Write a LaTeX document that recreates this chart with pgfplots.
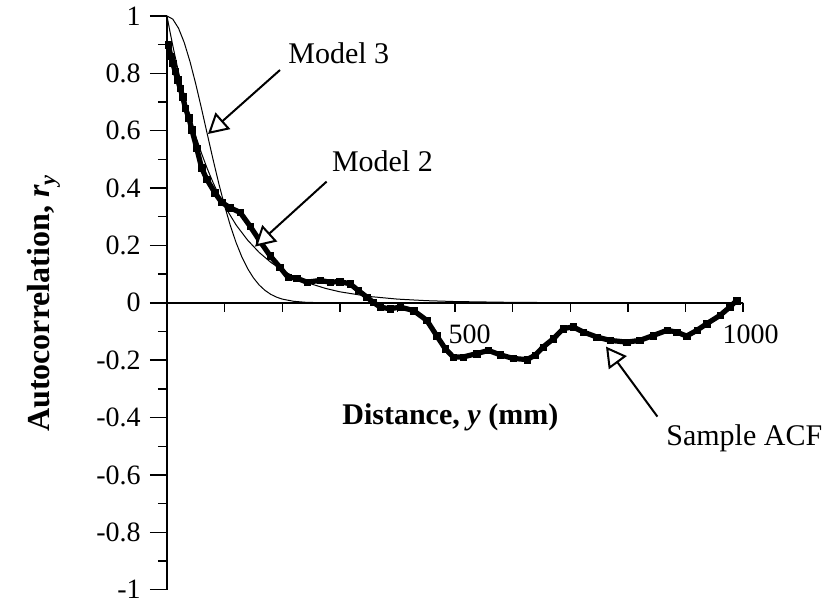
\documentclass[border=0pt]{standalone}
\usepackage{pgfplots}
\pgfplotsset{compat=1.18}
\usepackage{fontspec}
\setmainfont{Liberation Serif}
\usetikzlibrary{arrows.meta}

\begin{document}
\begin{tikzpicture}[font=\fontsize{15}{18}\selectfont]
\useasboundingbox (0,0) rectangle (415pt,301pt);
\begin{axis}[
  at={(83.5pt,6.2pt)}, anchor=south west,
  scale only axis, width=288pt, height=286.8pt,
  xmin=0, xmax=1000, ymin=-1, ymax=1,
  axis lines=middle,
  axis line style={-, line width=0.9pt},
  tick align=outside,
  tick style={black, line width=0.7pt},
  major tick length=8.5pt,
  minor tick length=4.5pt,
  hide obscured y ticks=false,
  hide obscured x ticks=false,
  xtick={500,1000},
  xticklabels={500,1000},
  major x tick style={draw=none},
  minor xtick={100,200,300,400,500,600,700,800,900,1000},
  ytick={-1,-0.8,-0.6,-0.4,-0.2,0,0.2,0.4,0.6,0.8,1},
  yticklabels={-1,-0.8,-0.6,-0.4,-0.2,0,0.2,0.4,0.6,0.8,1},
  minor ytick={-0.9,-0.7,-0.5,-0.3,-0.1,0.1,0.3,0.5,0.7,0.9},
  tick label style={font=\fontsize{14}{16}\selectfont},
  xticklabel style={anchor=east, inner sep=0pt, xshift=18pt, yshift=-7.5pt},
  yticklabel style={anchor=east, inner sep=0pt, xshift=-4.5pt},
  clip=false,
]
% Model 3: Gaussian-type correlation
\addplot[black, line width=0.5pt] coordinates {
  (0,1) (10,0.9892) (20,0.9575) (30,0.9070) (40,0.8406) (50,0.7624)
  (60,0.6767) (70,0.5876) (80,0.4994) (90,0.4153) (100,0.3379)
  (110,0.2690) (120,0.2096) (130,0.1598) (140,0.1192) (150,0.0871)
  (160,0.0622) (170,0.0435) (180,0.0297) (190,0.0199) (200,0.0130)
  (220,0.0052) (240,0.0019) (260,0.0007) (280,0.0002) (300,0.0001)
  (400,0) (600,0) (1000,0)
};
% Model 2: exponential correlation
\addplot[black, line width=0.5pt] coordinates {
  (0,1) (5,0.9471) (10,0.8970) (20,0.8046) (30,0.7218) (40,0.6474)
  (50,0.5807) (60,0.5209) (70,0.4673) (80,0.4192) (90,0.3760)
  (100,0.3373) (120,0.2714) (140,0.2184) (160,0.1757) (180,0.1414)
  (200,0.1137) (225,0.0867) (250,0.0660) (275,0.0503) (300,0.0384)
  (350,0.0223) (400,0.0129) (450,0.0075) (500,0.0044) (600,0.0015)
  (700,0.0005) (800,0.0002) (1000,0)
};
% Sample ACF
\addplot[black, line width=2.6pt, mark=square*, mark size=1.6pt,
         mark options={solid, line width=0.2pt}] coordinates {
  (2,0.900) (7,0.859) (10,0.836) (14,0.807) (18.6,0.778) (22.6,0.749)
  (27.3,0.718) (31.8,0.679) (38,0.645) (43,0.604) (51.5,0.540)
  (60,0.471) (69,0.431) (83,0.384) (95,0.350) (109,0.332) (127,0.315)
  (144,0.268) (161,0.216) (179,0.164) (196,0.124) (210,0.089)
  (225,0.086) (243,0.072) (266,0.078) (283,0.072) (300,0.074)
  (318,0.066) (332,0.043) (347,0.020) (358,0.002) (370,-0.015)
  (387,-0.021) (405,-0.015) (428,-0.027) (451,-0.061) (468,-0.114)
  (483,-0.160) (497,-0.189) (514,-0.189) (538,-0.177) (558,-0.166)
  (578,-0.181) (601,-0.194) (625,-0.198) (639,-0.183) (653,-0.154)
  (671,-0.125) (688,-0.090) (705,-0.084) (723,-0.102) (746,-0.119)
  (769,-0.131) (798,-0.137) (821,-0.131) (844,-0.114) (868,-0.096)
  (885,-0.102) (902,-0.116) (920,-0.096) (937,-0.073) (960,-0.044)
  (977,-0.015) (989,0.008)
};
\end{axis}

% axis titles
\node[rotate=90, anchor=base, font=\fontsize{16}{19}\selectfont\bfseries]
  at (25pt,149.5pt) {Autocorrelation, \textit{r}\textsubscript{\textit{y}}};
\node[anchor=base west, inner sep=0pt, font=\fontsize{15}{18}\selectfont\bfseries]
  at (171pt,89pt) {Distance, \textit{y} (mm)};

% callouts
\tikzset{callout/.style={line width=1pt,
  -{Triangle[length=10pt, width=11pt, fill=white]}}}
\draw[callout] (140pt,266pt) -- (104pt,234pt);
\draw[callout] (163.3pt,210.2pt) -- (127.5pt,177.7pt);
\draw[callout] (328.7pt,92.7pt) -- (303pt,127.7pt);
\node[anchor=base west, inner sep=0pt] at (144pt,269.3pt) {Model 3};
\node[anchor=base west, inner sep=0pt] at (165.8pt,215.2pt) {Model 2};
\node[anchor=base west, inner sep=0pt] at (333pt,78.5pt) {Sample ACF};
\end{tikzpicture}
\end{document}
